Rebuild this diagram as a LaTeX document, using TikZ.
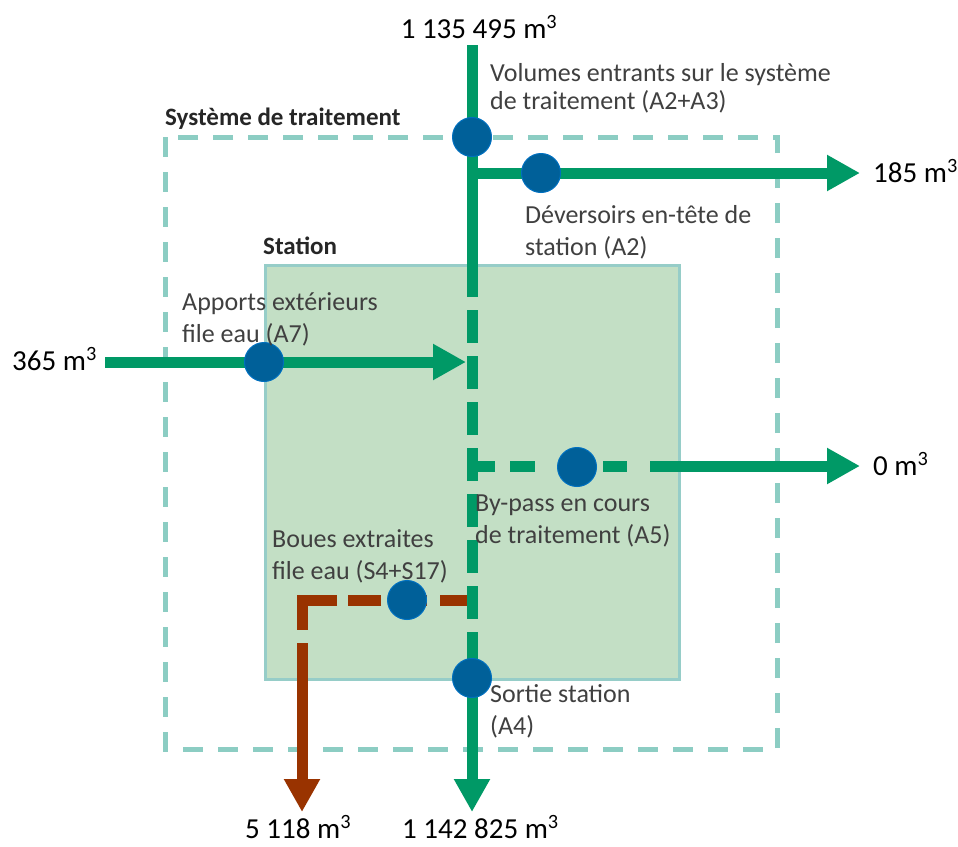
\documentclass[tikz,border=0pt]{standalone}
\usepackage{fontspec}
\setmainfont{Carlito}
\usetikzlibrary{arrows.meta}
\definecolor{flow}{RGB}{0,153,102}
\definecolor{sludge}{RGB}{153,51,0}
\definecolor{dotblue}{RGB}{0,96,153}
\definecolor{dotrim}{RGB}{0,112,192}
\definecolor{sysline}{RGB}{140,205,195}
\definecolor{stfill}{RGB}{195,223,197}
\definecolor{stline}{RGB}{150,205,200}
\definecolor{lblgray}{RGB}{64,64,64}
\tikzset{
  flowline/.style={draw=flow, line width=11pt},
  sludgeline/.style={draw=sludge, line width=11pt},
  arrowtip/.style={-{Triangle[length=33pt,width=34pt]}},
  dotnode/.style={circle, fill=dotblue, draw=dotrim, line width=1pt, minimum size=39pt, inner sep=0pt},
  lbl/.style={font=\fontsize{26}{32}\selectfont, text=lblgray, align=left, inner sep=0pt, anchor=west},
  val/.style={font=\fontsize{29}{34}\selectfont, text=black, inner sep=0pt},
  ttl/.style={font=\fontsize{25}{30}\selectfont\bfseries, text=black!85, inner sep=0pt, anchor=base west},
}
\begin{document}
\begin{tikzpicture}[x=1pt,y=-1pt]
\useasboundingbox[fill=white] (0,0) rectangle (958,846);

% boxes
\node[draw=stline, line width=3pt, fill=stfill, minimum width=414pt, minimum height=414pt, inner sep=0pt, anchor=north west] (station) at (263.5,263.5) {};
\draw[draw=sysline, line width=5pt, dash pattern=on 20pt off 15pt] (165,137) rectangle (777,749);
\node[ttl] (systitle) at (165,125) {Système de traitement};
\node[ttl] (sttitle) at (263,254) {Station};

% coordinates
\coordinate (vtop) at (472,45);
\coordinate (vsolidend) at (472,297);
\coordinate (vdashend) at (472,665);
\coordinate (vbot) at (472,812);
\coordinate (topjoin) at (472,173);
\coordinate (topend) at (860,173);
\coordinate (instart) at (105,362);
\coordinate (inend) at (466,362);
\coordinate (bpstart) at (473,466);
\coordinate (bpsolid) at (650,466);
\coordinate (bpend) at (860,466);
\coordinate (slstart) at (467,600);
\coordinate (slcorner) at (302,600);
\coordinate (sldashend) at (302,643);
\coordinate (slend) at (302,812);

% green main line
\draw[flowline] (vtop) -- (vsolidend);
\draw[flowline, dash pattern=on 33pt off 13pt, dash phase=33pt] (vsolidend) -- (vdashend);
\draw[flowline, arrowtip] (vdashend) -- (vbot);
% overflow branch
\draw[flowline, arrowtip] (topjoin) -- (topend);
% external input
\draw[flowline, arrowtip] (instart) -- (inend);
% by-pass
\draw[flowline, dash pattern=on 22pt off 15pt on 25pt off 68pt on 24pt off 23pt] (bpstart) -- (bpsolid);
\draw[flowline, arrowtip] (bpsolid) -- (bpend);
% sludge
\draw[sludgeline, dash pattern=on 27pt off 13pt on 33pt off 13pt on 33pt off 11pt on 65pt off 13pt] (slstart) -- (slcorner) -- (sldashend);
\draw[sludgeline, arrowtip] (sldashend) -- (slend);

% measurement points
\node[dotnode] (p1) at (472,137) {};
\node[dotnode] (p2) at (541,173) {};
\node[dotnode] (p3) at (264,362) {};
\node[dotnode] (p4) at (577,467) {};
\node[dotnode] (p5) at (407,600) {};
\node[dotnode] (p6) at (472,678) {};

% labels
\node[lbl, font=\fontsize{26}{28}\selectfont] (l1) at (490,88) {Volumes entrants sur le système\\de traitement (A2+A3)};
\node[lbl] (l2) at (525,232) {Déversoirs en-tête de\\station (A2)};
\node[lbl] (l3) at (182,319) {Apports extérieurs\\file eau (A7)};
\node[lbl] (l4) at (475,521) {By-pass en cours\\de traitement (A5)};
\node[lbl] (l5) at (272,556) {Boues extraites\\file eau (S4+S17)};
\node[lbl] (l6) at (490,711) {Sortie station\\(A4)};

% values
\node[val, anchor=base] (v1) at (479,38) {1 135 495 m\textsuperscript{3}};
\node[val, anchor=base west] (v2) at (873,182) {185 m\textsuperscript{3}};
\node[val, anchor=base west] (v3) at (12,370) {365 m\textsuperscript{3}};
\node[val, anchor=base west] (v4) at (873,475) {0 m\textsuperscript{3}};
\node[val, anchor=base west] (v5) at (245,838) {5 118 m\textsuperscript{3}};
\node[val, anchor=base west] (v6) at (402,838) {1 142 825 m\textsuperscript{3}};
\end{tikzpicture}
\end{document}
